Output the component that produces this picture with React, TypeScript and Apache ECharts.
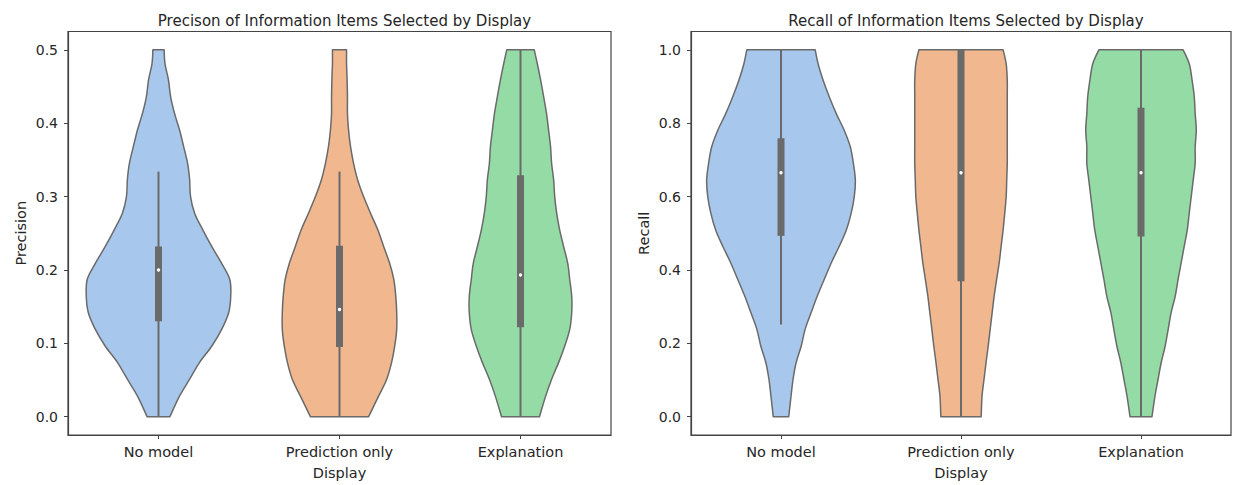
import React, { useEffect, useRef } from "react";
import * as echarts from "echarts";

const CATEGORIES = ["No model", "Prediction only", "Explanation"];
const COLORS = ["#a7c8ec", "#f1b78f", "#95dba6"];
const LINE_GRAY = "#6a6a6a";
const TEXT = "#262626";
const FONT = "DejaVu Sans";

const PREC_TICKS = [0, 0.1, 0.2, 0.3, 0.4, 0.5];
const RECALL_TICKS = [0, 0.2, 0.4, 0.6, 0.8, 1.0];
const CAT_TICKS = [0, 1, 2];

// Violin outlines: half-width (in category units) at each level
const PREC_LEVELS = [0, 0.028, 0.051, 0.074, 0.096, 0.119, 0.142, 0.164, 0.187, 0.209, 0.232, 0.255, 0.277, 0.3, 0.323, 0.345, 0.368, 0.391, 0.413, 0.436, 0.459, 0.481, 0.5];
const PREC_NO_MODEL = [0.063, 0.116, 0.172, 0.227, 0.294, 0.349, 0.388, 0.399, 0.394, 0.349, 0.294, 0.244, 0.2, 0.177, 0.172, 0.161, 0.139, 0.116, 0.089, 0.067, 0.055, 0.036, 0.031];
const PREC_PREDICTION = [0.161, 0.216, 0.261, 0.288, 0.305, 0.316, 0.316, 0.311, 0.3, 0.277, 0.244, 0.211, 0.172, 0.133, 0.1, 0.078, 0.061, 0.05, 0.044, 0.044, 0.042, 0.039, 0.039];
const PREC_EXPLANATION = [0.105, 0.139, 0.172, 0.211, 0.244, 0.272, 0.283, 0.283, 0.272, 0.261, 0.238, 0.216, 0.2, 0.189, 0.183, 0.172, 0.166, 0.155, 0.144, 0.128, 0.111, 0.093, 0.076];

const RECALL_LEVELS = [0, 0.057, 0.102, 0.147, 0.192, 0.238, 0.283, 0.328, 0.374, 0.419, 0.464, 0.509, 0.555, 0.6, 0.645, 0.691, 0.736, 0.781, 0.826, 0.872, 0.917, 0.962, 1.0];
const RECALL_NO_MODEL = [0.043, 0.056, 0.067, 0.084, 0.112, 0.134, 0.167, 0.201, 0.24, 0.279, 0.323, 0.363, 0.39, 0.407, 0.413, 0.402, 0.385, 0.351, 0.307, 0.268, 0.234, 0.206, 0.19];
const RECALL_PREDICTION = [0.112, 0.117, 0.128, 0.139, 0.151, 0.162, 0.173, 0.184, 0.198, 0.212, 0.223, 0.234, 0.243, 0.251, 0.254, 0.257, 0.257, 0.257, 0.257, 0.257, 0.257, 0.251, 0.234];
const RECALL_EXPLANATION = [0.061, 0.078, 0.095, 0.112, 0.134, 0.151, 0.167, 0.19, 0.206, 0.223, 0.24, 0.257, 0.268, 0.279, 0.29, 0.301, 0.301, 0.307, 0.301, 0.296, 0.284, 0.268, 0.234];

// Inner box: [whisker low, q1, median, q3, whisker high]
const PREC_BOX_NO_MODEL = [0, 0.13, 0.2, 0.232, 0.334];
const PREC_BOX_PREDICTION = [0, 0.095, 0.146, 0.233, 0.334];
const PREC_BOX_EXPLANATION = [0, 0.122, 0.193, 0.329, 0.5];
const RECALL_BOX_NO_MODEL = [0.251, 0.493, 0.665, 0.759, 1.0];
const RECALL_BOX_PREDICTION = [0, 0.369, 0.665, 1.0, 1.0];
const RECALL_BOX_EXPLANATION = [0, 0.491, 0.665, 0.842, 1.0];

// Catmull-Rom spline through points, as cubic bezier segments (no initial M)
function splineSegments(pts: number[][]): string {
  let d = "";
  for (let k = 0; k < pts.length - 1; k++) {
    const p0 = pts[Math.max(0, k - 1)];
    const p1 = pts[k];
    const p2 = pts[k + 1];
    const p3 = pts[Math.min(pts.length - 1, k + 2)];
    const c1x = p1[0] + (p2[0] - p0[0]) / 6;
    const c1y = p1[1] + (p2[1] - p0[1]) / 6;
    const c2x = p2[0] - (p3[0] - p1[0]) / 6;
    const c2y = p2[1] - (p3[1] - p1[1]) / 6;
    d += ` C${c1x.toFixed(2)},${c1y.toFixed(2)} ${c2x.toFixed(2)},${c2y.toFixed(2)} ${p2[0].toFixed(2)},${p2[1].toFixed(2)}`;
  }
  return d;
}

function makeRender(levels: number[], profiles: number[][], boxes: number[][]) {
  return (params: any, api: any) => {
    const i = api.value(0);
    const prof = profiles[i];
    const n = levels.length;
    const right: number[][] = [];
    const left: number[][] = [];
    for (let k = 0; k < n; k++) {
      right.push(api.coord([i + prof[k], levels[k]]));
      left.push(api.coord([i - prof[k], levels[k]]));
    }
    const leftRev = left.slice().reverse();
    const d =
      `M${right[0][0].toFixed(2)},${right[0][1].toFixed(2)}` +
      splineSegments(right) +
      ` L${leftRev[0][0].toFixed(2)},${leftRev[0][1].toFixed(2)}` +
      splineSegments(leftRev) +
      " Z";
    const b = boxes[i];
    const lo = api.coord([i, b[0]]);
    const cx = lo[0];
    const yLo = lo[1];
    const yQ1 = api.coord([i, b[1]])[1];
    const yMed = api.coord([i, b[2]])[1];
    const yQ3 = api.coord([i, b[3]])[1];
    const yHi = api.coord([i, b[4]])[1];
    return {
      type: "group",
      children: [
        {
          type: "path",
          shape: { pathData: d },
          style: { fill: COLORS[i], stroke: LINE_GRAY, lineWidth: 1.5, lineJoin: "round" },
        },
        {
          type: "line",
          shape: { x1: cx, y1: yLo, x2: cx, y2: yHi },
          style: { stroke: LINE_GRAY, lineWidth: 2 },
        },
        {
          type: "rect",
          shape: { x: cx - 3.5, y: yQ3, width: 7, height: yQ1 - yQ3 },
          style: { fill: LINE_GRAY },
        },
        {
          type: "circle",
          shape: { cx: cx, cy: yMed, r: 1.7 },
          style: { fill: "#ffffff" },
        },
      ],
    };
  };
}

function xAxisOpt(gridIndex: number) {
  return {
    type: "value",
    gridIndex,
    min: -0.5,
    max: 2.5,
    name: "Display",
    nameLocation: "middle",
    nameGap: 30,
    nameTextStyle: { fontFamily: FONT, fontSize: 14.5, color: TEXT },
    axisLine: { show: true, onZero: false, lineStyle: { color: "#444", width: 1.2 } },
    axisTick: { show: true, customValues: CAT_TICKS, length: 4, lineStyle: { color: "#444" } },
    axisLabel: {
      customValues: CAT_TICKS,
      formatter: (v: number) => CATEGORIES[Math.round(v)],
      fontFamily: FONT,
      fontSize: 14.5,
      color: TEXT,
      margin: 9,
    },
    splitLine: { show: false },
  };
}

function yAxisOpt(gridIndex: number, name: string, min: number, max: number, ticks: number[]) {
  return {
    type: "value",
    gridIndex,
    min,
    max,
    name,
    nameLocation: "middle",
    nameGap: 40,
    nameRotate: 90,
    nameTextStyle: { fontFamily: FONT, fontSize: 14.5, color: TEXT },
    axisLine: { show: true, onZero: false, lineStyle: { color: "#444", width: 1.2 } },
    axisTick: { show: true, customValues: ticks, length: 4, lineStyle: { color: "#444" } },
    axisLabel: {
      customValues: ticks,
      formatter: (v: number) => v.toFixed(1),
      fontFamily: FONT,
      fontSize: 14,
      color: TEXT,
      margin: 10,
    },
    splitLine: { show: false },
  };
}

export default function App() {
  const ref = useRef<HTMLDivElement>(null);
  useEffect(() => {
    document.body.style.margin = "0";
    document.body.style.background = "#ffffff";
    const chart = echarts.init(ref.current!, null, { renderer: "svg" });
    chart.setOption({
      animation: false,
      backgroundColor: "#ffffff",
      title: [
        {
          text: "Precison of Information Items Selected by Display",
          left: 339.5,
          top: 8,
          textAlign: "center",
          textStyle: { fontFamily: FONT, fontSize: 15, fontWeight: "normal", color: TEXT },
        },
        {
          text: "Recall of Information Items Selected by Display",
          left: 961,
          top: 8,
          textAlign: "center",
          textStyle: { fontFamily: FONT, fontSize: 15, fontWeight: "normal", color: TEXT },
        },
      ],
      grid: [
        { left: 68, top: 31.5, width: 543, height: 404, show: true, borderColor: "#444", borderWidth: 1.2, backgroundColor: "transparent" },
        { left: 691, top: 31.5, width: 540, height: 404, show: true, borderColor: "#444", borderWidth: 1.2, backgroundColor: "transparent" },
      ],
      xAxis: [xAxisOpt(0), xAxisOpt(1)],
      yAxis: [
        yAxisOpt(0, "Precision", -0.025, 0.525, PREC_TICKS),
        yAxisOpt(1, "Recall", -0.05, 1.05, RECALL_TICKS),
      ],
      series: [
        {
          type: "custom",
          xAxisIndex: 0,
          yAxisIndex: 0,
          data: CAT_TICKS.map((c) => [c]),
          renderItem: makeRender(PREC_LEVELS, [PREC_NO_MODEL, PREC_PREDICTION, PREC_EXPLANATION], [PREC_BOX_NO_MODEL, PREC_BOX_PREDICTION, PREC_BOX_EXPLANATION]),
        },
        {
          type: "custom",
          xAxisIndex: 1,
          yAxisIndex: 1,
          data: CAT_TICKS.map((c) => [c]),
          renderItem: makeRender(RECALL_LEVELS, [RECALL_NO_MODEL, RECALL_PREDICTION, RECALL_EXPLANATION], [RECALL_BOX_NO_MODEL, RECALL_BOX_PREDICTION, RECALL_BOX_EXPLANATION]),
        },
      ],
    });
    return () => chart.dispose();
  }, []);
  return <div ref={ref} style={{ width: 1233, height: 485 }} />;
}
